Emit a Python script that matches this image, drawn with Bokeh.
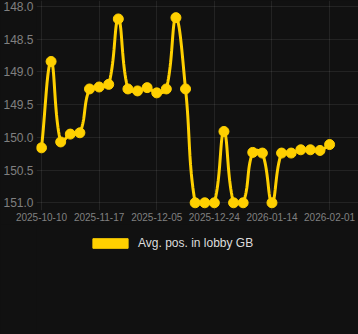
import numpy as np
from bokeh.plotting import figure
from bokeh.layouts import column
from bokeh.models import Range1d, FixedTicker, Legend, LegendItem, ColumnDataSource
from bokeh.embed import file_html
from bokeh.resources import INLINE

# ---------------- data ----------------
dates = [
    "2025-10-10", "2025-10-16", "2025-10-23", "2025-10-29", "2025-11-04", "2025-11-11",
    "2025-11-17", "2025-11-20", "2025-11-23", "2025-11-26", "2025-11-29", "2025-12-02",
    "2025-12-05", "2025-12-08", "2025-12-11", "2025-12-15", "2025-12-18", "2025-12-21",
    "2025-12-24", "2025-12-27", "2025-12-31", "2026-01-03", "2026-01-07", "2026-01-10",
    "2026-01-14", "2026-01-17", "2026-01-20", "2026-01-23", "2026-01-26", "2026-01-29",
    "2026-02-01",
]
values = [
    150.16, 148.84, 150.07, 149.95, 149.93, 149.26, 149.23, 149.19, 148.19, 149.26,
    149.29, 149.24, 149.32, 149.26, 148.17, 149.26, 151.0, 151.0, 151.0, 149.91,
    151.0, 151.0, 150.23, 150.24, 151.0, 150.24, 150.24, 150.19, 150.19, 150.2,
    150.11,
]
series_name = "Avg. pos. in lobby GB"
x_tick_index = [0, 6, 12, 18, 24, 30]
y_ticks = [148.0, 148.5, 149.0, 149.5, 150.0, 150.5, 151.0]

GOLD = "#FFD000"
BG = "#111111"
FONT = "Liberation Sans"

x = np.arange(len(values), dtype=float)
y = np.array(values, dtype=float)

# ---------- smooth curve (Chart.js-like spline, tension 0.4) ----------
SX, SY = 9.633, 65.43
Y_MIN, Y_MAX = min(y_ticks), max(y_ticks)
P = np.column_stack([x * SX, y * SY])
n = len(P)
t = 0.4
cprev = np.zeros_like(P)
cnext = np.zeros_like(P)
for i in range(n):
    prv = P[i - 1] if i > 0 else P[i]
    cur = P[i]
    nxt = P[i + 1] if i < n - 1 else P[i]
    d01 = np.hypot(*(cur - prv))
    d12 = np.hypot(*(nxt - cur))
    tot = d01 + d12
    s01 = d01 / tot if tot else 0.0
    s12 = d12 / tot if tot else 0.0
    cprev[i] = cur - t * s01 * (nxt - prv)
    cnext[i] = cur + t * s12 * (nxt - prv)
cprev = cprev / [SX, SY]
cnext = cnext / [SX, SY]
cprev[:, 1] = np.clip(cprev[:, 1], Y_MIN, Y_MAX)
cnext[:, 1] = np.clip(cnext[:, 1], Y_MIN, Y_MAX)

xs, ys = [], []
tt = np.linspace(0, 1, 25)
for i in range(n - 1):
    p0 = np.array([x[i], y[i]]); p3 = np.array([x[i + 1], y[i + 1]])
    p1 = cnext[i]; p2 = cprev[i + 1]
    seg = ((1 - tt) ** 3)[:, None] * p0 + (3 * (1 - tt) ** 2 * tt)[:, None] * p1 \
        + (3 * (1 - tt) * tt ** 2)[:, None] * p2 + (tt ** 3)[:, None] * p3
    if i > 0:
        seg = seg[1:]
    xs.extend(seg[:, 0]); ys.extend(seg[:, 1])

# ---------------- main chart ----------------
p = figure(width=358, height=224, output_backend="svg", toolbar_location=None,
           x_range=Range1d(-0.519, 33.01), y_range=Range1d(151.118, 147.908),
           min_border_left=35, min_border_right=0, min_border_top=0, min_border_bottom=14,
           background_fill_color=BG, border_fill_color=BG, outline_line_color=None)

p.line(xs, ys, line_color=GOLD, line_width=3)
p.scatter(x, y, size=10, fill_color=GOLD, line_color=GOLD)

p.xaxis.ticker = FixedTicker(ticks=x_tick_index)
p.xaxis.major_label_overrides = {i: dates[i] for i in x_tick_index}
p.yaxis.ticker = FixedTicker(ticks=y_ticks)
p.yaxis.major_label_overrides = {v: f"{v:.1f}" for v in y_ticks}
for ax in (p.xaxis[0], p.yaxis[0]):
    ax.axis_line_color = None
    ax.major_tick_line_color = None
    ax.minor_tick_line_color = None
    ax.major_tick_in = 0
    ax.major_tick_out = 0
    ax.major_label_text_font = FONT
    ax.major_label_text_color = "#808080"
p.xaxis.major_label_text_font_size = "10px"
p.xaxis.major_label_standoff = 2
p.yaxis.major_label_text_font_size = "12px"
p.yaxis.major_label_standoff = 3

p.xgrid.grid_line_color = "#ffffff"
p.xgrid.grid_line_alpha = 0.08
p.ygrid.grid_line_color = "#ffffff"
p.ygrid.grid_line_alpha = 0.08

# ---------------- legend strip ----------------
lg = figure(width=358, height=110, output_backend="svg", toolbar_location=None,
            x_range=Range1d(0, 1), y_range=Range1d(0, 1),
            min_border_left=0, min_border_right=0, min_border_top=0, min_border_bottom=0,
            background_fill_color=BG, border_fill_color=BG, outline_line_color=None)
lg.axis.visible = False
lg.grid.visible = False

# swatch renderer: one box placed outside the visible range, used only by the legend
box_src = ColumnDataSource(data=dict(l=[5.0], r=[6.0], t=[6.0], b=[5.0]))
box = lg.quad(left="l", right="r", top="t", bottom="b", source=box_src,
              fill_color=GOLD, line_color=GOLD)

legend = Legend(items=[LegendItem(label=series_name, renderers=[box])],
                location=(52, 84), orientation="horizontal",
                glyph_width=44, glyph_height=12, label_height=12, padding=0, margin=0,
                label_standoff=6, background_fill_alpha=0, border_line_color=None,
                label_text_font=FONT, label_text_font_size="12px",
                label_text_color="#dddddd")
lg.add_layout(legend)

layout = column(p, lg, spacing=0, styles={"background-color": BG})
open("out.html", "w").write(file_html(layout, INLINE))
